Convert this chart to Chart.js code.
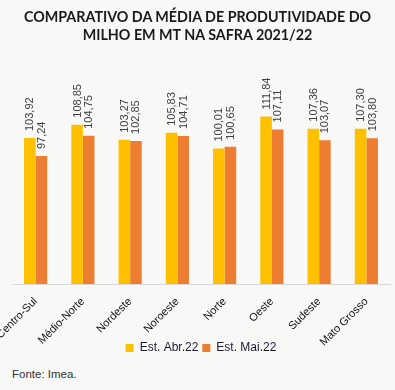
<!DOCTYPE html>
<html>
<head>
<meta charset="utf-8">
<script src="https://cdn.jsdelivr.net/npm/chart.js@4/dist/chart.umd.min.js"></script>
<style>
    html, body { margin: 0; padding: 0; background: #f8f8f6; }
    #wrap { position: relative; width: 395px; height: 364px; }
    #titulo {
        position: absolute; left: 0; top: 8px; width: 395px; text-align: center;
        font: bold 14.3px Lato, "Open Sans", sans-serif; line-height: 18px; color: #1a1a1a;
    }
    #fonte {
        position: absolute; left: 12px; top: 368px;
        font: 11.5px "Liberation Sans", Arial, sans-serif; color: #333;
    }
</style>
</head>
<body>
<div id="wrap"><canvas id="chart"></canvas></div>
<div id="titulo">COMPARATIVO DA MÉDIA DE PRODUTIVIDADE DO<br>MILHO EM MT NA SAFRA 2021/22</div>
<div id="fonte">Fonte: Imea.</div>
<script>
// Chart data
const regioes = ['Centro-Sul', 'Médio-Norte', 'Nordeste', 'Noroeste', 'Norte', 'Oeste', 'Sudeste', 'Mato Grosso'];
const estAbr = [103.92, 108.85, 103.27, 105.83, 100.01, 111.84, 107.36, 107.30];
const estMai = [97.24, 104.75, 102.85, 104.71, 100.65, 107.11, 103.07, 103.80];

/**
 * Vertical value labels above each bar
 */
const barLabels = {
    id: 'barLabels',
    afterDatasetsDraw(chart) {
        const ctx = chart.ctx;
        ctx.save();
        ctx.font = '11px "Liberation Sans", Arial, sans-serif';
        ctx.fillStyle = '#404040';
        ctx.textAlign = 'left';
        ctx.textBaseline = 'middle';
        chart.data.datasets.forEach((ds, i) => {
            chart.getDatasetMeta(i).data.forEach((bar, j) => {
                const txt = ds.data[j].toFixed(2).replace('.', ',');
                ctx.save();
                ctx.translate(bar.x + 0.5, bar.y - 7);
                ctx.rotate(-Math.PI / 2);
                ctx.fillText(txt, 0, 0);
                ctx.restore();
            });
        });
        ctx.restore();
    }
};

new Chart(document.getElementById('chart'), {
    type: 'bar',
    data: {
        labels: regioes,
        datasets: [
            { label: 'Est. Abr.22', data: estAbr, backgroundColor: '#ffc000' },
            { label: 'Est. Mai.22', data: estMai, backgroundColor: '#ed7d31' }
        ]
    },
    options: {
        responsive: true,
        maintainAspectRatio: false,
        animation: false,
        devicePixelRatio: 1,
        categoryPercentage: 0.49,
        barPercentage: 1.0,
        layout: { padding: { left: 12, right: 5, top: 62, bottom: 0 } },
        plugins: {
            legend: {
                position: 'bottom',
                labels: {
                    color: '#1a1a2e',
                    boxWidth: 8,
                    boxHeight: 8,
                    padding: 4,
                    font: { family: '"Liberation Sans", Arial, sans-serif', size: 12 }
                }
            },
            tooltip: { enabled: false }
        },
        scales: {
            x: {
                grid: { display: false, drawTicks: false },
                border: { color: '#d9d9d9', width: 1 },
                afterFit(scale) {
                    // let the first rotated label run off the left edge,
                    // and let long labels hang into the legend band
                    scale.paddingLeft = 0;
                    scale.paddingRight = 0;
                    scale.height = 54;
                    scale._computeLabelArea = () => undefined;
                },
                ticks: {
                    color: '#111',
                    minRotation: 45,
                    maxRotation: 45,
                    padding: 11,
                    font: { family: '"Liberation Sans", Arial, sans-serif', size: 11 }
                }
            },
            y: {
                display: false,
                min: 50,
                max: 132
            }
        }
    },
    plugins: [barLabels]
});
</script>
</body>
</html>
